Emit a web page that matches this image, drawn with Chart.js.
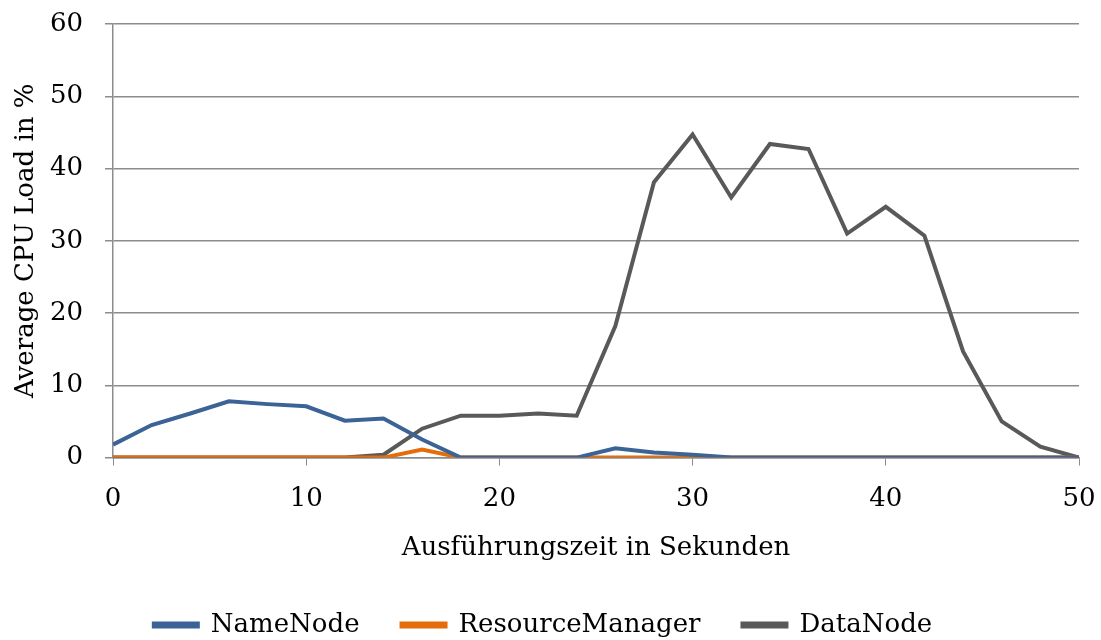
<!DOCTYPE html>
<html>
<head>
<meta charset="utf-8">
<script src="https://cdn.jsdelivr.net/npm/chart.js@4/dist/chart.umd.min.js"></script>
<style>
  html, body { margin:0; padding:0; background:#fff; }
  #wrap { width:1101px; height:640px; }
</style>
</head>
<body>
<div id="wrap"><canvas id="graphique"></canvas></div>
<script>
const secondes = [0,2,4,6,8,10,12,14,16,18,20,22,24,26,28,30,32,34,36,38,40,42,44,46,48,50];
const nameNode = [1.8,4.5,6.1,7.8,7.4,7.1,5.1,5.4,2.5,0,0,0,0,1.3,0.7,0.4,0,0,0,0,0,0,0,0,0,0];
const resourceManager = [0,0,0,0,0,0,0,0,1.1,0,0,0,0,0,0,0,0,0,0,0,0,0,0,0,0,0];
const dataNode = [0,0,0,0,0,0,0,0.4,4.0,5.8,5.8,6.1,5.8,18.2,38.1,44.7,36.0,43.4,42.7,31.0,34.7,30.7,14.7,5.0,1.5,0];

const police = "'DejaVu Serif', serif";
const taille = 26;
const gris = "#8c8c8c";

function serie(label, valeurs, couleur){
  return {
    label,
    data: secondes.map((s, i) => ({ x: s, y: valeurs[i] })),
    borderColor: couleur,
    backgroundColor: couleur,
    borderWidth: 4,
    pointRadius: 0,
    tension: 0
  };
}

const ctx = document.getElementById("graphique").getContext("2d");
new Chart(ctx, {
  type: 'line',
  data: {
    datasets: [
      serie("NameNode", nameNode, "#3b6396"),
      serie("ResourceManager", resourceManager, "#e46c0a"),
      serie("DataNode", dataNode, "#595959")
    ]
  },
  options: {
    responsive: true,
    maintainAspectRatio: false,
    animation: false,
    layout: { padding: { top: 24, right: 22, bottom: -8, left: 7 } },
    plugins: {
      legend: {
        position: 'bottom',
        labels: {
          font: { family: police, size: taille },
          color: '#000',
          boxWidth: 44,
          boxHeight: 3,
          padding: 42
        }
      },
      tooltip: { enabled: false }
    },
    scales: {
      x: {
        type: 'linear',
        min: 0, max: 50,
        afterFit: (axe) => { axe.paddingLeft = 0; axe.paddingRight = 0; },
        ticks: { stepSize: 10, color: '#000', font: { family: police, size: taille }, padding: 18 },
        grid: { drawOnChartArea: false, color: gris, tickLength: 8 },
        border: { color: gris, width: 1.5 },
        title: { display: true, text: "Ausführungszeit in Sekunden", color: '#000', font: { family: police, size: taille }, padding: { top: 0, bottom: 6 } }
      },
      y: {
        min: 0, max: 60,
        afterFit: (axe) => { axe.width = 106; axe.paddingTop = 0; axe.paddingBottom = 0; },
        ticks: { stepSize: 10, color: '#000', font: { family: police, size: taille }, padding: 22 },
        grid: { color: gris, lineWidth: 1.5, tickLength: 8 },
        border: { color: gris, width: 1.5 },
        title: { display: true, text: "Average CPU Load in %", color: '#000', font: { family: police, size: taille }, padding: 4 }
      }
    }
  }
});
</script>
</body>
</html>
